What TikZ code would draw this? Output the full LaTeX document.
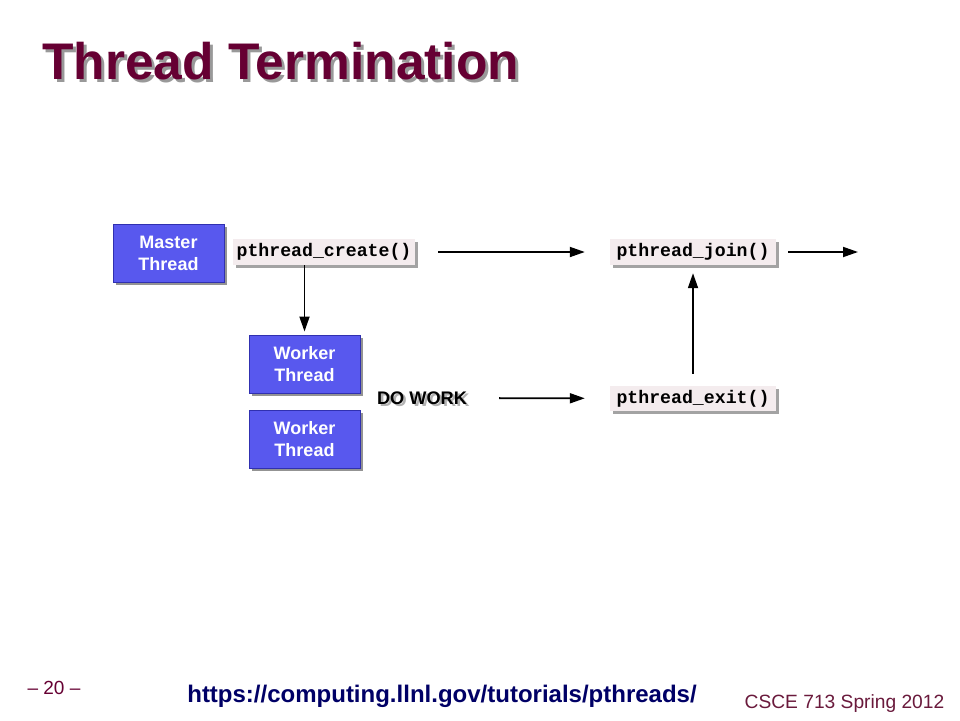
\documentclass[tikz,border=0pt]{standalone}
\usepackage{fontspec}
\setmainfont{Liberation Sans}
\newfontfamily\codefont{Liberation Mono}
\usetikzlibrary{arrows.meta,shadows}
\definecolor{titlecol}{HTML}{660033}
\definecolor{boxblue}{HTML}{5858EE}
\definecolor{boxedge}{HTML}{3030B0}
\definecolor{codefill}{HTML}{F4ECEE}
\definecolor{urlcol}{HTML}{000066}
\definecolor{footcol}{HTML}{6A1A3C}
\tikzset{
  threadbox/.style={rectangle, fill=boxblue, draw=boxedge, line width=1pt,
    minimum width=111pt, minimum height=58pt, inner sep=0pt, align=center,
    text=white, font=\bfseries\fontsize{18}{22}\selectfont,
    drop shadow={shadow xshift=3pt, shadow yshift=-3pt, fill=black!70, opacity=0.6}},
  codebox/.style={rectangle, fill=codefill, draw=none, inner sep=0pt,
    minimum height=26pt, font=\codefont\bfseries\fontsize{18.2}{20}\selectfont,
    drop shadow={shadow xshift=2.5pt, shadow yshift=-2.5pt, fill=black!60, opacity=0.6}},
  flow/.style={-{Triangle[length=15pt,width=10pt]}, line width=1.8pt, black},
  dotext/.style={inner sep=0pt, font=\bfseries\fontsize{18.2}{20}\selectfont},
}
\begin{document}
\begin{tikzpicture}[x=1pt,y=-1pt]
\useasboundingbox (0,0) rectangle (960,720);
\fill[white] (0,0) rectangle (960,720);
% title
\node[anchor=base west, inner sep=0pt, text=black!40, font=\bfseries\fontsize{51.5}{60}\selectfont] (titleshadow) at (45,82) {Thread Termination};
\node[anchor=base west, inner sep=0pt, text=titlecol, font=\bfseries\fontsize{51.5}{60}\selectfont] (title) at (42,79) {Thread Termination};
% nodes
\node[threadbox] (master) at (168.5,253) {Master\\Thread};
\node[codebox, minimum width=182pt] (create) at (324,252) {pthread\_create()};
\node[codebox, minimum width=166pt] (join) at (693,252) {pthread\_join()};
\node[threadbox] (worker1) at (304.5,364) {Worker\\Thread};
\node[threadbox] (worker2) at (304.5,439) {Worker\\Thread};
\node[dotext, text=black!30] (doworkshadow) at (424.5,400.5) {DO WORK};
\node[dotext] (dowork) at (422,398) {DO WORK};
\node[codebox, minimum width=166pt, minimum height=25pt] (exit) at (693,398.5) {pthread\_exit()};
\coordinate (outend) at (858,252);
% connectors
\draw[flow, shorten <=23pt, shorten >=25pt] (create) -- (join);
\draw[flow, shorten <=12pt] (join) -- (outend);
\draw[flow, shorten >=3pt] (create.south -| worker1.north) -- (worker1.north);
\draw[flow, shorten <=32pt, shorten >=25pt] (dowork) -- (exit);
\draw[flow, shorten <=12pt, shorten >=8pt] (exit) -- (join);
% footer
\node[font=\fontsize{19}{22}\selectfont, text=titlecol] (pagenum) at (54,688) {-- 20 --};
\node[font=\bfseries\fontsize{24}{28}\selectfont, text=urlcol] (url) at (442,696) {https://computing.llnl.gov/tutorials/pthreads/};
\node[font=\fontsize{19.2}{22}\selectfont, text=footcol] (course) at (844.5,704) {CSCE 713 Spring 2012};
\end{tikzpicture}
\end{document}
